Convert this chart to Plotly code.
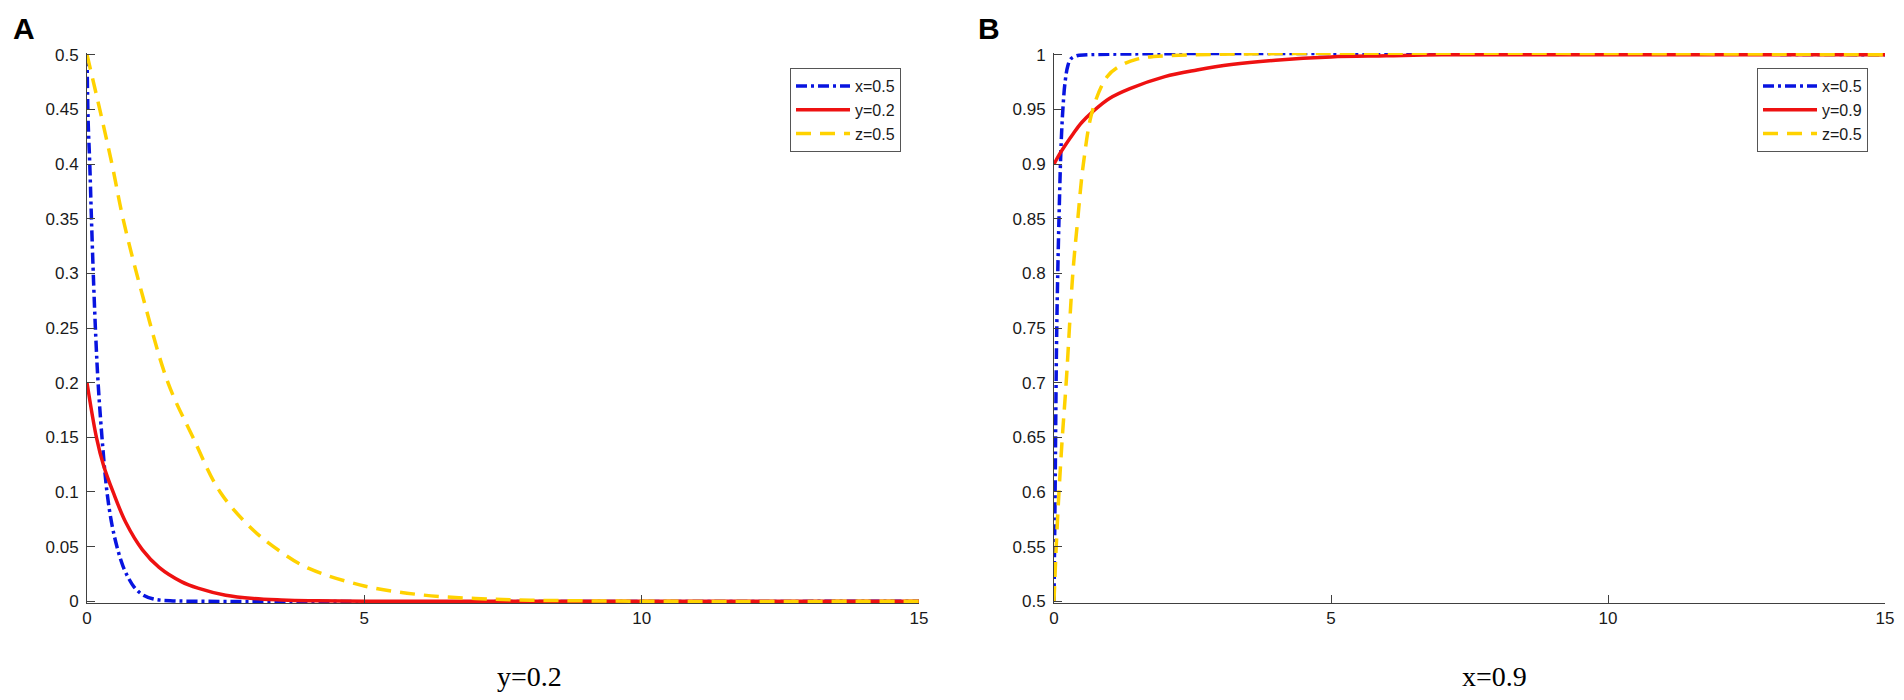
import plotly.graph_objects as go

# panel A (y=0.2): time and the three shares
t_a_x = [0, 0.02, 0.05, 0.08, 0.12, 0.16, 0.2, 0.27, 0.36, 0.45, 0.55, 0.65, 0.75, 0.85, 1.0, 1.2, 1.5, 2.0, 15]
a_x = [0.5, 0.44, 0.40, 0.35, 0.29, 0.24, 0.20, 0.15, 0.10, 0.07, 0.048, 0.032, 0.021, 0.013, 0.006, 0.002, 0.0005, 0.0, 0.0]

t_a_y = [0, 0.17, 0.3, 0.47, 0.7, 1.0, 1.3, 1.7, 2.0, 2.5, 3.0, 3.5, 4.0, 5.0, 15]
a_y = [0.2, 0.15, 0.124, 0.10, 0.072, 0.047, 0.031, 0.018, 0.012, 0.0055, 0.0025, 0.0012, 0.0005, 0.0001, 0.0]

t_a_z = [0, 0.23, 0.45, 0.65, 1.0, 1.46, 1.91, 2.4, 3.0, 3.5, 4.0, 5.0, 6.0, 7.0, 8.0, 10.0, 15]
a_z = [0.5, 0.45, 0.40, 0.35, 0.28, 0.20, 0.15, 0.10, 0.065, 0.045, 0.03, 0.014, 0.006, 0.0025, 0.001, 0.0, 0.0]

# panel B (x=0.9)
t_b_x = [0, 0.01, 0.02, 0.05, 0.09, 0.13, 0.16, 0.2, 0.25, 0.3, 0.4, 0.6, 15]
b_x = [0.5, 0.55, 0.6, 0.75, 0.85, 0.92, 0.95, 0.975, 0.99, 0.996, 0.999, 1.0, 1.0]

t_b_y = [0, 0.1, 0.2, 0.35, 0.5, 0.7, 1.0, 1.37, 2.0, 2.58, 3.2, 4.0, 5.0, 6.0, 7.0, 15]
b_y = [0.9, 0.909, 0.917, 0.928, 0.938, 0.948, 0.96, 0.969, 0.98, 0.986, 0.991, 0.995, 0.998, 0.999, 1.0, 1.0]

t_b_z = [0, 0.04, 0.09, 0.15, 0.22, 0.34, 0.43, 0.53, 0.7, 0.96, 1.2, 1.5, 2.0, 15]
b_z = [0.5, 0.55, 0.6, 0.65, 0.7, 0.8, 0.85, 0.9, 0.95, 0.98, 0.99, 0.996, 0.999, 1.0]

names_a = ["x=0.5", "y=0.2", "z=0.5"]
names_b = ["x=0.5", "y=0.9", "z=0.5"]
x_ticks = [0, 5, 10, 15]

BLUE = "#0814e0"
RED = "#ee1111"
YELLOW = "#ffd200"
AXIS = "#404040"
SANS = "Liberation Sans, Arial, sans-serif"
SERIF = "Liberation Serif, Times New Roman, serif"

styles = [
    dict(color=BLUE, width=3.5, dash="11px,4px,3px,4px"),
    dict(color=RED, width=3.5, dash="solid"),
    dict(color=YELLOW, width=3.5, dash="15px,9px"),
]

fig = go.Figure()

panel_a = [(t_a_x, a_x), (t_a_y, a_y), (t_a_z, a_z)]
panel_b = [(t_b_x, b_x), (t_b_y, b_y), (t_b_z, b_z)]

for i, (t, v) in enumerate(panel_a):
    fig.add_trace(go.Scatter(x=t, y=v, mode="lines", name=names_a[i], line=styles[i],
                             line_shape="spline", xaxis="x", yaxis="y",
                             legend="legend"))
for i, (t, v) in enumerate(panel_b):
    fig.add_trace(go.Scatter(x=t, y=v, mode="lines", name=names_b[i], line=styles[i],
                             line_shape="spline", xaxis="x2", yaxis="y2",
                             legend="legend2"))

W, H = 1904, 700
y_dom = [1 - 603 / H, 1 - 53 / H]

axis_common = dict(
    showline=True, linecolor=AXIS, linewidth=1, mirror=False,
    ticks="inside", ticklen=8, tickcolor=AXIS, tickwidth=1,
    showgrid=False, zeroline=False, automargin=False,
    tickfont=dict(family=SANS, size=17, color="#1a1a1a"),
)

legend_common = dict(
    bgcolor="white", bordercolor="#555555", borderwidth=1,
    font=dict(family=SANS, size=16, color="#1a1a1a"),
    xanchor="left", yanchor="top", itemwidth=54,
)


def label(text, x, y, family, size):
    return dict(text=text, x=x / W, y=1 - y / H, xref="paper", yref="paper",
                xanchor="center", yanchor="middle", showarrow=False,
                font=dict(family=family, size=size, color="black"))


fig.update_layout(
    width=W, height=H,
    margin=dict(l=0, r=0, t=0, b=0),
    paper_bgcolor="white", plot_bgcolor="white",
    xaxis=dict(axis_common, domain=[87 / W, 919 / W], range=[0, 15],
               tickvals=x_ticks, anchor="y"),
    yaxis=dict(axis_common, domain=y_dom, range=[-0.0016, 0.5016], dtick=0.05,
               tick0=0, anchor="x", ticklabelstandoff=4),
    xaxis2=dict(axis_common, domain=[1054 / W, 1885 / W], range=[0, 15],
                tickvals=x_ticks, anchor="y2"),
    yaxis2=dict(axis_common, domain=y_dom, range=[0.4984, 1.0016], dtick=0.05,
                tick0=0.5, anchor="x2", ticklabelstandoff=4),
    legend=dict(legend_common, x=790 / W, y=1 - 68 / H),
    legend2=dict(legend_common, x=1757 / W, y=1 - 68 / H),
    annotations=[
        label("<b>A</b>", 23.5, 29, SANS, 30),
        label("<b>B</b>", 989, 29, SANS, 30),
        label("y=0.2", 529, 676, SERIF, 28),
        label("x=0.9", 1494, 676, SERIF, 28),
    ],
)

fig.write_html(
    "out.html",
    config={"displayModeBar": False},
    post_script="document.body.style.margin='0';document.body.style.overflow='hidden';",
)
